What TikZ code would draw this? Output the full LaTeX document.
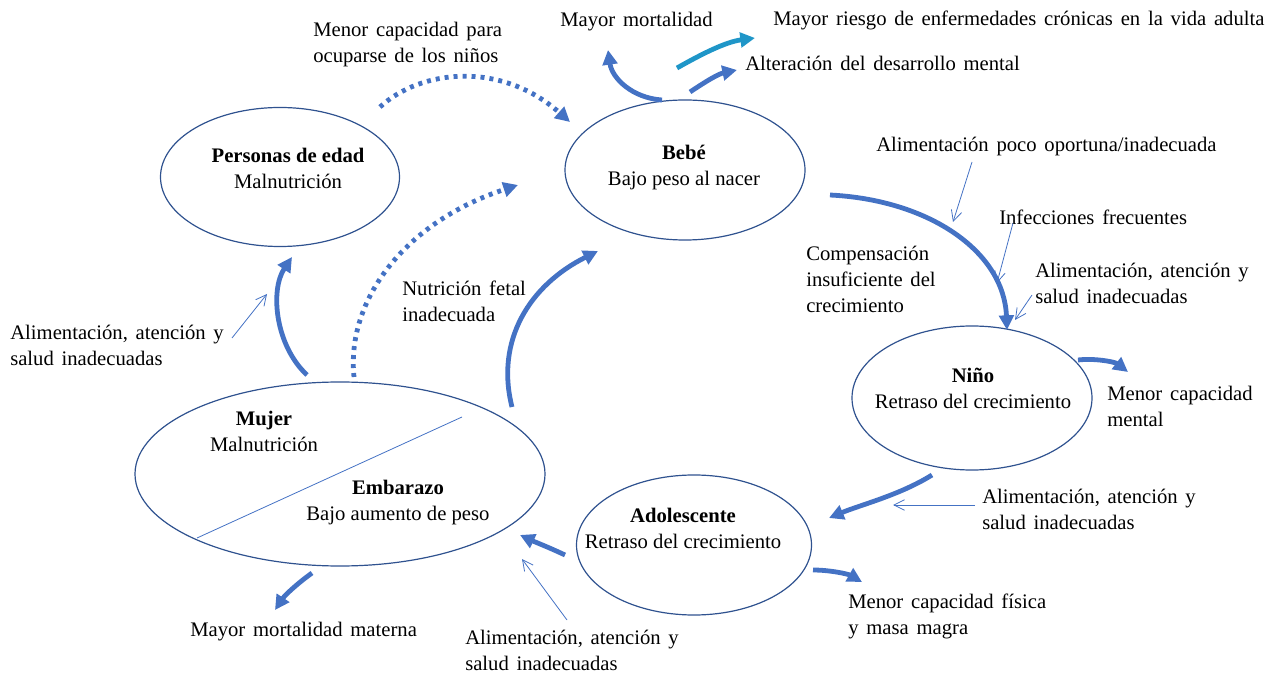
\documentclass[tikz,border=0pt]{standalone}
\usepackage{fontspec}
\setmainfont{Liberation Serif}[WordSpace=1.5]
\newfontfamily\fuenteElipse{Liberation Serif}
\usetikzlibrary{arrows.meta,shapes.geometric}
\definecolor{azulFlecha}{RGB}{68,114,196}
\definecolor{azulBorde}{RGB}{47,82,143}
\definecolor{turquesa}{RGB}{31,150,200}

\begin{document}
\begin{tikzpicture}[x=0.75pt,y=-0.75pt,
    elipse/.style={draw=azulBorde, line width=0.9pt, ellipse, inner sep=0pt},
    titulo/.style={font=\fuenteElipse\fontsize{15.5}{19.5}\selectfont, align=center, inner sep=0pt},
    texto/.style={font=\fontsize{15.5}{19.5}\selectfont, align=left, anchor=west, inner sep=0pt},
    gruesa/.style={draw=azulFlecha, line width=3.6pt, -{Triangle[length=11pt,width=11pt]}},
    punteada/.style={gruesa, dash pattern=on 3pt off 3.75pt},
    fina/.style={draw=azulFlecha, line width=0.6pt, -{Straight Barb[length=8pt,width=8pt]}}
]
    \useasboundingbox (0,0) rectangle (1271,673);

    %etapas del ciclo
    \node[elipse, minimum width=179.25pt, minimum height=104.25pt] (edad) at (280,177) {};
    \node[elipse, minimum width=180pt, minimum height=105pt] (bebe) at (685,170) {};
    \node[elipse, minimum width=180pt, minimum height=108pt] (nino) at (972,398) {};
    \node[elipse, minimum width=176.25pt, minimum height=105pt] (adol) at (694,545) {};
    \node[elipse, minimum width=307.5pt, minimum height=138pt] (mujer) at (340,474) {};
    \coordinate (div1) at (197,538);
    \coordinate (div2) at (462,417);
    \draw[azulFlecha, line width=0.6pt] (div1) -- (div2);

    \node[titulo] (t-edad) at (288,168) {\textbf{Personas de edad}\\Malnutrición};
    \node[titulo] (t-bebe) at (684,168) {\textbf{Bebé}\\Bajo peso al nacer};
    \node[titulo] (t-nino) at (973,388) {\textbf{Niño}\\Retraso del crecimiento};
    \node[titulo] (t-adol) at (683,528) {\textbf{Adolescente}\\Retraso del crecimiento};
    \node[titulo] (t-mujer) at (264,431) {\textbf{Mujer}\\Malnutrición};
    \node[titulo] (t-emb) at (398,503) {\textbf{Embarazo}\\Bajo aumento de peso};

    %textos
    \node[texto] (ocuparse) at (313,45) {Menor capacidad para\\ocuparse de los niños};
    \node[texto] (mortalidad) at (560,22) {Mayor mortalidad};
    \node[texto] (riesgo) at (773,20) {Mayor riesgo de enfermedades crónicas en la vida adulta};
    \node[texto] (mental) at (745,63) {Alteración del desarrollo mental};
    \node[texto] (poco) at (876,147) {Alimentación poco oportuna/inadecuada};
    \node[texto] (infec) at (999,217) {Infecciones frecuentes};
    \node[texto] (alim1) at (1035,283.5) {Alimentación, atención y\\salud inadecuadas};
    \node[texto] (compens) at (806,279) {Compensación\\insuficiente del\\crecimiento};
    \node[texto] (fetal) at (402,301) {Nutrición fetal\\inadecuada};
    \node[texto] (alim2) at (10,345) {Alimentación, atención y\\salud inadecuadas};
    \node[texto] (capmental) at (1107,406) {Menor capacidad\\mental};
    \node[texto] (alim3) at (982,509) {Alimentación, atención y\\salud inadecuadas};
    \node[texto] (fisica) at (848,616) {Menor capacidad física\\y masa magra};
    \node[texto] (materna) at (190,632) {Mayor mortalidad materna};
    \node[texto] (alim4) at (465,650) {Alimentación, atención y\\salud inadecuadas};

    %puntos de las flechas
    \coordinate (b-mort) at (662,100);   \coordinate (mort) at (608,50);
    \coordinate (b-ries) at (677,68);    \coordinate (ries) at (755,38);
    \coordinate (b-ment) at (690,92);    \coordinate (ment) at (737,70);
    \coordinate (e-bebe) at (380,107);   \coordinate (bebe-a) at (570,122);
    \coordinate (m-bebe) at (354,377);   \coordinate (bebe-b) at (518,185);
    \coordinate (m-edad) at (307,375);   \coordinate (edad-a) at (292,257);
    \coordinate (m-bebe2) at (512,407);  \coordinate (bebe-c) at (598,251);
    \coordinate (b-nino) at (830,195);   \coordinate (nino-a) at (1007,330);
    \coordinate (n-cap) at (1078,360);   \coordinate (cap) at (1128,372);
    \coordinate (n-adol) at (932,475);   \coordinate (adol-a) at (829,518);
    \coordinate (a-fis) at (813,570);    \coordinate (fis) at (862,582);
    \coordinate (a-mujer) at (565,555);  \coordinate (mujer-a) at (520,535);
    \coordinate (m-mat) at (312,573);    \coordinate (mat) at (275,610);

    %flechas gruesas
    \draw[gruesa] (b-mort) .. controls (632,98) and (612,78) .. (mort);
    \draw[gruesa, draw=turquesa] (b-ries) .. controls (700,55) and (725,42) .. (ries);
    \draw[gruesa] (b-ment) .. controls (705,82) and (718,74) .. (ment);
    \draw[punteada] (e-bebe) .. controls (420,70) and (500,60) .. (bebe-a);
    \draw[punteada] (m-bebe) .. controls (346,300) and (405,222) .. (bebe-b);
    \draw[gruesa] (m-edad) .. controls (275,345) and (270,290) .. (edad-a);
    \draw[gruesa] (m-bebe2) .. controls (495,340) and (530,285) .. (bebe-c);
    \draw[gruesa] (b-nino) .. controls (930,200) and (1004,252) .. (nino-a);
    \draw[gruesa] (n-cap) .. controls (1095,358) and (1115,362) .. (cap);
    \draw[gruesa] (n-adol) .. controls (900,495) and (860,505) .. (adol-a);
    \draw[gruesa] (a-fis) .. controls (830,570) and (848,574) .. (fis);
    \draw[gruesa] (a-mujer) .. controls (548,547) and (535,542) .. (mujer-a);
    \draw[gruesa] (m-mat) .. controls (298,583) and (285,595) .. (mat);

    %flechas finas
    \foreach \xa/\ya/\xb/\yb [count=\i] in {
        972/162/953/222, 1013/223/997/283, 1032/295/1015/320,
        232/338/267/294, 975/505/893/505, 567/620/522/559
    } {
        \coordinate (f\i-a) at (\xa,\ya);
        \coordinate (f\i-b) at (\xb,\yb);
        \draw[fina] (f\i-a) -- (f\i-b);
    }
\end{tikzpicture}
\end{document}
